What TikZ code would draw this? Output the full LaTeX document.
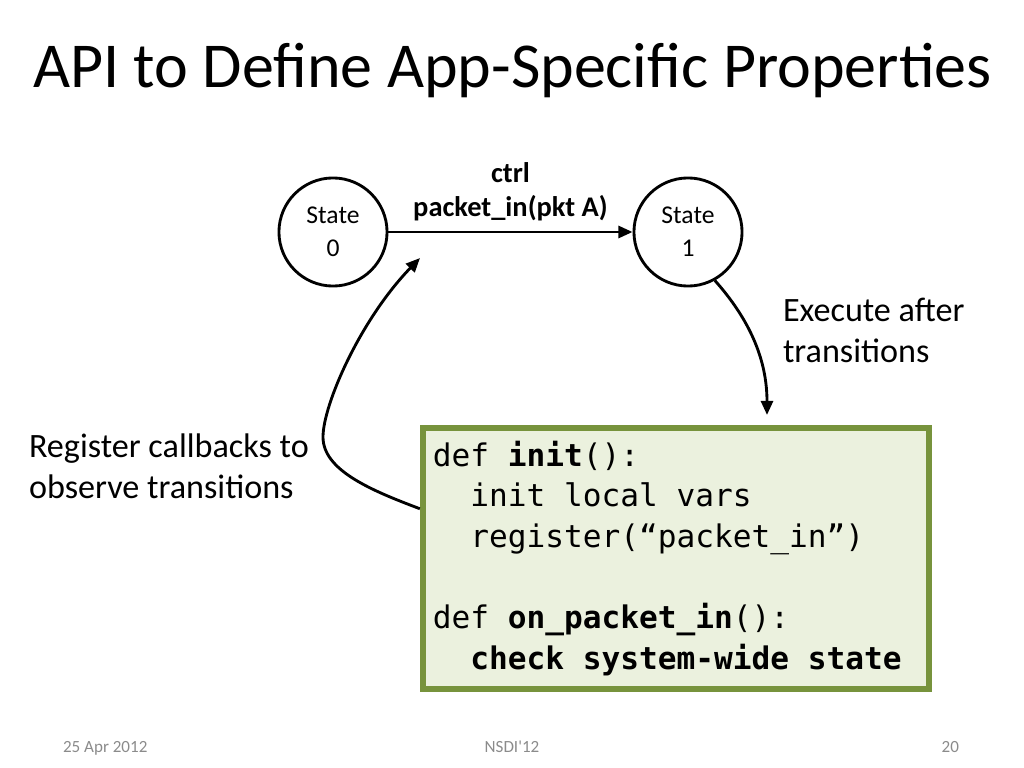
\documentclass[tikz,border=0pt]{standalone}
\usepackage{fontspec}
\setmainfont{Carlito}
\setmonofont{DejaVu Sans Mono}
\usetikzlibrary{arrows.meta}

\definecolor{boxgreen}{HTML}{EBF1DE}
\definecolor{boxborder}{HTML}{77933C}
\definecolor{footgray}{HTML}{8B8B8B}

\begin{document}
\begin{tikzpicture}[x=0.703125pt, y=-0.703125pt,
    state/.style={draw, circle, line width=2pt, minimum size=76pt, inner sep=0pt, align=center, font=\fontsize{18}{23}\selectfont},
    arr/.style={line width=2pt, -{Triangle[length=10pt, width=8.5pt]}},
    codebox/.style={draw=boxborder, fill=boxgreen, line width=4.2pt, minimum width=356pt, minimum height=183.5pt, text width=342pt, align=flush left, font=\fontsize{21.9}{28.6}\selectfont\ttfamily},
    side/.style={align=left, font=\fontsize{24}{28.8}\selectfont},
    foot/.style={text=footgray, font=\fontsize{12}{14}\selectfont}]

    \useasboundingbox (0,0) rectangle (1024,768);

    % title
    \node[anchor=base west, font=\fontsize{45}{52}\selectfont] (title) at (28,88) {API to Define App-Specific Properties};

    % states
    \node[state] (state0) at (333,232) {State\\0};
    \node[state] (state1) at (688,232) {State\\1};

    \draw[arr] (state0) -- node[midway, above=3.5pt, align=center, font=\bfseries\fontsize{20}{23.5}\selectfont] (trlabel) {ctrl\\packet\_in(pkt A)} (state1);

    % code
    \node[codebox] (code) at (676,558.5) {\spaceskip=0pt\xspaceskip=0pt\relax
        def \textbf{init}():\\
        \phantom{xx}init local vars\\
        \phantom{xx}register(“packet\_in”)\\[28.6pt]
        def \textbf{on\_packet\_in}():\\
        \phantom{xx}\textbf{check system-wide state}};

    \coordinate (cbtip) at (420,258);
    \coordinate (exectip) at (767,415);

    \draw[arr] ([yshift=35pt]code.west) .. controls (370,490) and (323,470) .. (323,437)
        .. controls (323,405) and (360,320) .. (cbtip);
    \draw[arr] (state1.-61) .. controls (750,320) and (767,360) .. (exectip);

    \node[side, anchor=west] (exectext) at (778,330) {Execute after\\transitions};
    \node[side, anchor=west] (regtext) at (24,466) {Register callbacks to\\observe transitions};

    % footer
    \node[foot, anchor=base west] (date) at (58,752) {25 Apr 2012};
    \node[foot, anchor=base] (conf) at (512,752) {NSDI\textquotesingle 12};
    \node[foot, anchor=base east] (page) at (964,752) {20};

\end{tikzpicture}
\end{document}
